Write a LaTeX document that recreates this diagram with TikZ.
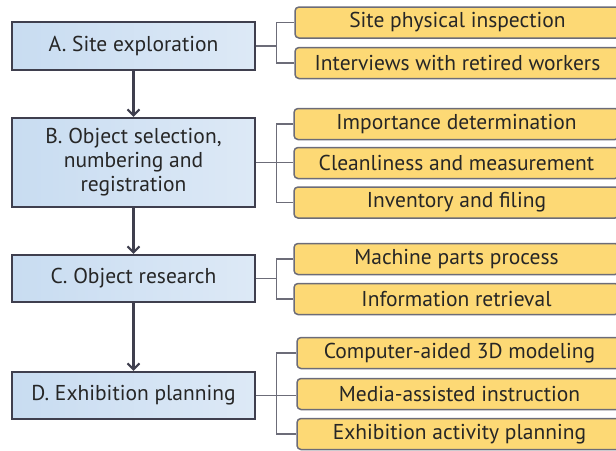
\documentclass[tikz,border=0pt]{standalone}
\usepackage{fontspec}
\setmainfont{PT Sans}
\usetikzlibrary{calc,arrows.meta}
\definecolor{stepblueA}{HTML}{C8DCF1}
\definecolor{stepblueB}{HTML}{DDE9F6}
\definecolor{stepline}{HTML}{3F3F4E}
\definecolor{taskfill}{HTML}{FDD975}
\definecolor{taskline}{HTML}{6C6C78}
\tikzset{>={Straight Barb[length=6pt,width=12pt,line width=2pt]}}

\begin{document}
\begin{tikzpicture}[x=1pt,y=-1pt,
        stepbox/.style={draw=stepline,line width=2.4pt,left color=stepblueA,right color=stepblueB,
          minimum width=243pt,align=center,font=\fontsize{21.5}{24}\selectfont,text=black!85},
        taskbox/.style={draw=taskline,line width=1.5pt,fill=taskfill,rounded corners=4pt,
          minimum width=325pt,minimum height=31pt,font=\fontsize{21.5}{24}\selectfont,text=black!85},
        conn/.style={draw=taskline,line width=1.3pt},
        flow/.style={->,draw=stepline,line width=2.4pt}]
        \useasboundingbox (0,0) rectangle (616,450);
        \clip (0,0) rectangle (616,450);
        % main steps
        \node[stepbox,minimum height=48pt] (a) at (133.5,46) {A. Site exploration};
        \node[stepbox,minimum height=89pt] (b) at (133.5,162.5) {B. Object selection,\\numbering and\\registration};
        \node[stepbox,minimum height=47pt] (c) at (133.5,278.5) {C. Object research};
        \node[stepbox,minimum height=47pt] (d) at (133.5,395.5) {D. Exhibition planning};
        % tasks
        \node[taskbox] (a1) at (457.5,22.5) {Site physical inspection};
        \node[taskbox] (a2) at (457.5,63) {Interviews with retired workers};
        \node[taskbox] (b1) at (456.5,124) {Importance determination};
        \node[taskbox] (b2) at (456.5,163) {Cleanliness and measurement};
        \node[taskbox] (b3) at (456.5,202.5) {Inventory and filing};
        \node[taskbox] (c1) at (456.5,259) {Machine parts process};
        \node[taskbox] (c2) at (456.5,299) {Information retrieval};
        \node[taskbox] (d1) at (459.5,353) {Computer-aided 3D modeling};
        \node[taskbox] (d2) at (459.5,394) {Media-assisted instruction};
        \node[taskbox] (d3) at (459.5,434) {Exhibition activity planning};
        % flow
        \draw[flow] (a) -- (b);
        \draw[flow] (b) -- (c);
        \draw[flow] (c) -- (d);
        % brackets
        \coordinate (ja) at ($(a.east)+(20,0)$);
        \coordinate (jb) at ($(b.east)+(20,0)$);
        \coordinate (jc) at ($(c.east)+(20,0)$);
        \coordinate (jd) at ($(d.east)+(20,0)$);
        \draw[conn] (a.east) -- (ja);
        \draw[conn] (a1.west) -| (ja);
        \draw[conn] (a2.west) -| (ja);
        \draw[conn] (b.east) -- (b.east -| b2.west);
        \draw[conn] (b1.west) -| (jb);
        \draw[conn] (b3.west) -| (jb);
        \draw[conn] (c.east) -- (jc);
        \draw[conn] (c1.west) -| (jc);
        \draw[conn] (c2.west) -| (jc);
        \draw[conn] (d.east) -- (d.east -| d2.west);
        \draw[conn] (d1.west) -| (jd);
        \draw[conn] (d3.west) -| (jd);
    \end{tikzpicture}
\end{document}
